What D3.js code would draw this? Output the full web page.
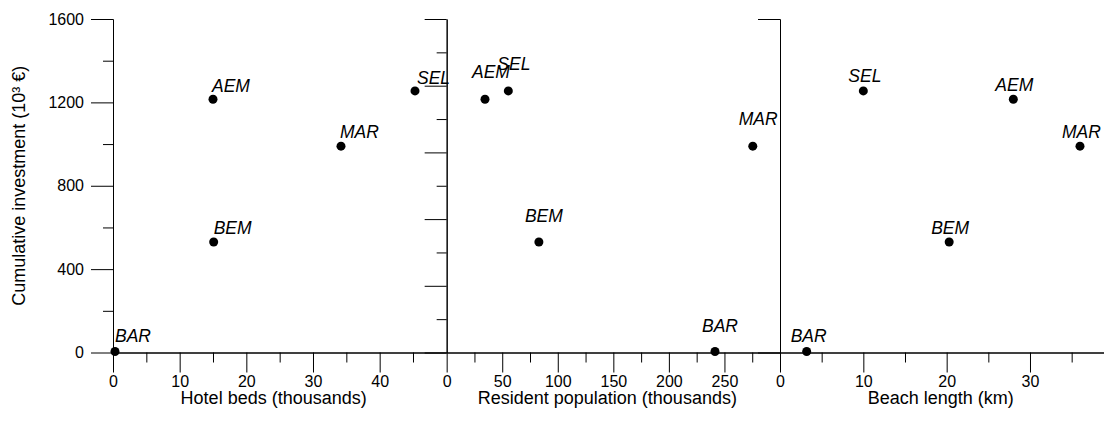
<!DOCTYPE html>
<html>
<head>
<meta charset="utf-8">
<script src="https://cdn.jsdelivr.net/npm/d3@7"></script>
<style>
  html, body { margin: 0; padding: 0; background: #fff; }
  svg { display: block; }
  text { font-family: "Liberation Sans", Arial, sans-serif; fill: #000; }
</style>
</head>
<body>
<svg id="chart" width="1104" height="426"></svg>
<script>
// ---- data ----
const sites = ["AEM", "SEL", "MAR", "BEM", "BAR"];
const investment = [1215, 1255, 990, 530, 5];            // 10^3 €
const hotelBeds = [15.0, 45.3, 34.2, 15.1, 0.3];          // thousands
const population = [34.5, 55.5, 275.5, 83.0, 241.5];      // thousands
const beachLength = [28.0, 10.0, 36.0, 20.3, 3.2];        // km

const yTicks = [0, 400, 800, 1200, 1600];
const yMinorTicks = [200, 600, 1000, 1400];

const panelTitles = ["Hotel beds (thousands)", "Resident population (thousands)", "Beach length (km)"];
const xDomains = [[0, 50], [0, 300], [0, 40]];
const xMajorTicks = [[0, 10, 20, 30, 40], [0, 50, 100, 150, 200, 250], [0, 10, 20, 30]];
const xMinorTicks = [[5, 15, 25, 35, 45], [25, 75, 125, 175, 225, 275], [5, 15, 25, 35]];

// ---- layout / style ----
const svg = d3.select("#chart");
const topY = 19, ph = 333.5, pw = 333.33;
const lefts = [113, 446.67, 780];
const yTitle = "Cumulative investment (10³ €)";

// label offsets [dx, dy] per panel per site (positioning only)
const labelOffsets = [
  { AEM: [-1, -7], SEL: [2, -7], MAR: [-1, -8], BEM: [0, -8], BAR: [0, -9] },
  { AEM: [-13, -21], SEL: [-11, -21], MAR: [-14, -21], BEM: [-14, -20], BAR: [-13, -19] },
  { AEM: [-18, -8], SEL: [-15, -9], MAR: [-18, -8], BEM: [-18, -8], BAR: [-16, -9] }
];

const y = d3.scaleLinear().domain([0, 1600]).range([topY + ph, topY]);
const xVals = [hotelBeds, population, beachLength];

function styleAxis(g) {
  g.selectAll("path.domain").attr("stroke", "#000").attr("stroke-width", 1);
  g.selectAll(".tick line").attr("stroke", "#000").attr("stroke-width", 1);
  g.selectAll(".tick text").style("font-size", "16px").attr("fill", "#000");
}

lefts.forEach((L, i) => {
  const x = d3.scaleLinear().domain(xDomains[i]).range([L, L + pw]);

  // minor x ticks
  svg.append("g").attr("transform", `translate(0,${topY + ph})`)
    .call(d3.axisBottom(x).tickValues(xMinorTicks[i]).tickSize(10).tickSizeOuter(0).tickFormat(""))
    .call(styleAxis);
  // major x ticks
  svg.append("g").attr("transform", `translate(0,${topY + ph})`)
    .call(d3.axisBottom(x).tickValues(xMajorTicks[i]).tickSize(20).tickPadding(3).tickSizeOuter(0))
    .call(styleAxis);

  // y axes
  let yMaj, yMin, labelled = false;
  if (i === 0) { yMaj = yTicks; yMin = yMinorTicks; labelled = true; }
  else if (i === 1) { yMaj = d3.range(0, 1601, 320); yMin = d3.range(160, 1600, 320); }
  else { yMaj = [0, 1600]; yMin = []; }

  svg.append("g").attr("transform", `translate(${L},0)`)
    .call(d3.axisLeft(y).tickValues(yMin).tickSize(10).tickSizeOuter(0).tickFormat(""))
    .call(styleAxis);
  svg.append("g").attr("transform", `translate(${L},0)`)
    .call(d3.axisLeft(y).tickValues(yMaj).tickSize(22).tickPadding(7).tickSizeOuter(0)
      .tickFormat(labelled ? d3.format("d") : ""))
    .call(styleAxis);

  // x title
  svg.append("text")
    .attr("x", L + pw / 2 - 6)
    .attr("y", 404)
    .attr("text-anchor", "middle")
    .style("font-size", "18px")
    .text(panelTitles[i]);

  // points
  const g = svg.append("g");
  sites.forEach((s, k) => {
    const cx = x(xVals[i][k]), cy = y(investment[k]);
    g.append("circle").attr("cx", cx).attr("cy", cy).attr("r", 4.5).attr("fill", "#000");
    const off = labelOffsets[i][s];
    g.append("text")
      .attr("x", cx + off[0]).attr("y", cy + off[1])
      .style("font-size", "17.5px").style("font-style", "italic")
      .text(s);
  });
});

// y title
svg.append("text")
  .attr("transform", `translate(25,${topY + ph / 2}) rotate(-90)`)
  .attr("text-anchor", "middle")
  .style("font-size", "18px")
  .text(yTitle);
</script>
</body>
</html>
